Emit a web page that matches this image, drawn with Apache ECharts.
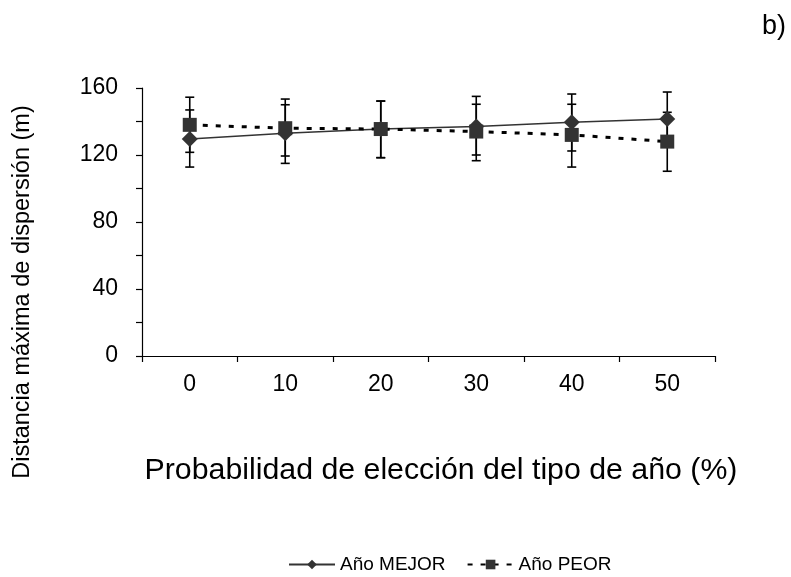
<!DOCTYPE html>
<html>
<head>
<meta charset="utf-8">
<script src="https://cdn.jsdelivr.net/npm/echarts@6/dist/echarts.min.js"></script>
<style>
html, body { margin: 0; padding: 0; background: #fff; }
#chart { width: 791px; height: 577px; }
</style>
</head>
<body>
<div id="chart"></div>
<script>
var categories = ['0', '10', '20', '30', '40', '50'];
// Año MEJOR: media y barras de error
var mejor = [129.5, 133, 135.5, 137, 139.5, 141.5];
var mejorLow = [112.8, 115, 118.4, 120, 122.4, 125.5];
var mejorHigh = [146.9, 150, 152.2, 155, 156.4, 157.6];
// Año PEOR
var peor = [138, 136, 135.5, 134, 132, 128];
var peorLow = [121.6, 119.4, 118.4, 116.6, 112.8, 110.3];
var peorHigh = [154.5, 153.4, 152.2, 150.3, 150.3, 145.5];

var font = 'Liberation Sans, Arial, sans-serif';
var chart = echarts.init(document.getElementById('chart'));

//barras de error con caps
function errorSeries(name, low, high) {
    return {
        type: 'custom',
        name: name,
        z: 1,
        encode: { x: 0, y: [1, 2] },
        renderItem: function (params, api) {
            var i = api.value(0);
            var top = api.coord([i, api.value(2)]);
            var bot = api.coord([i, api.value(1)]);
            var w = 4.5;
            var st = { stroke: '#000', lineWidth: 1.6 };
            return {
                type: 'group',
                children: [
                    { type: 'line', shape: { x1: top[0], y1: top[1], x2: bot[0], y2: bot[1] }, style: st },
                    { type: 'line', shape: { x1: top[0] - w, y1: top[1], x2: top[0] + w, y2: top[1] }, style: st },
                    { type: 'line', shape: { x1: bot[0] - w, y1: bot[1], x2: bot[0] + w, y2: bot[1] }, style: st }
                ]
            };
        },
        data: categories.map(function (c, i) { return [i, low[i], high[i]]; })
    };
}

var option = {
    animation: false,
    backgroundColor: '#fff',
    textStyle: { fontFamily: font },
    grid: { left: 142, right: 76, top: 88, bottom: 221 },
    legend: {
        data: ['Año MEJOR', 'Año PEOR'],
        top: 550,
        left: 283,
        itemWidth: 46,
        itemHeight: 12,
        itemGap: 21,
        textStyle: { fontSize: 19, color: '#000', fontFamily: font }
    },
    xAxis: {
        type: 'category',
        data: categories,
        boundaryGap: true,
        axisLine: { lineStyle: { color: '#000', width: 1.2 } },
        axisTick: { show: true, length: 6, lineStyle: { color: '#000', width: 1.2 } },
        axisLabel: { color: '#000', fontSize: 23, margin: 17, fontFamily: font },
        splitLine: { show: false }
    },
    yAxis: {
        type: 'value',
        min: 0,
        max: 160,
        interval: 40,
        axisLine: { show: true, lineStyle: { color: '#000', width: 1.2 } },
        axisTick: { show: true, length: 6, lineStyle: { color: '#000', width: 1.2 } },
        minorTick: { show: true, splitNumber: 2, length: 6, lineStyle: { color: '#000', width: 1.2 } },
        axisLabel: { color: '#000', fontSize: 23, margin: 24, fontFamily: font },
        splitLine: { show: false }
    },
    graphic: [
        {
            type: 'text', left: 762, top: 13,
            style: { text: 'b)', fontSize: 27, fill: '#000', fontFamily: font }
        },
        {
            type: 'text', x: 441, y: 471,
            style: { text: 'Probabilidad de elección del tipo de año (%)', fontSize: 30.3, fill: '#000', fontFamily: font, align: 'center', verticalAlign: 'middle' }
        },
        {
            type: 'text', x: 23, y: 292, rotation: Math.PI / 2,
            style: { text: 'Distancia máxima de dispersión (m)', fontSize: 23.5, fill: '#000', fontFamily: font, align: 'center', verticalAlign: 'middle' }
        }
    ],
    series: [
        errorSeries('errMejor', mejorLow, mejorHigh),
        errorSeries('errPeor', peorLow, peorHigh),
        {
            name: 'Año MEJOR',
            type: 'line',
            z: 3,
            data: mejor,
            symbol: 'diamond',
            symbolSize: 16,
            itemStyle: { color: '#333' },
            lineStyle: { color: '#333', width: 1.5, type: 'solid' }
        },
        {
            name: 'Año PEOR',
            type: 'line',
            z: 4,
            data: peor,
            symbol: 'rect',
            symbolSize: 14,
            itemStyle: { color: '#333' },
            lineStyle: { color: '#000', width: 3, type: [5, 8] }
        }
    ]
};

chart.setOption(option);
</script>
</body>
</html>
